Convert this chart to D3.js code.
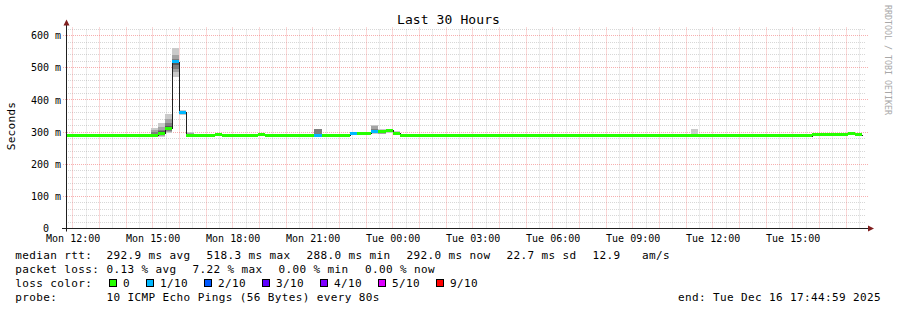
<!DOCTYPE html>
<html>
<head>
<meta charset="utf-8">
<script src="https://cdn.jsdelivr.net/npm/d3@7/dist/d3.min.js"></script>
<style>
body { margin: 0; background: #fff; }
text { font-family: "DejaVu Sans Mono", monospace; fill: #000; }
</style>
</head>
<body>
<div id="chart"></div>
<script>
// Graph period
var endTime = new Date(2025, 11, 16, 17, 44, 59);
var spanHours = 30;
var firstBin = new Date(2025, 11, 15, 11, 44, 0);
var binMinutes = 16;

// Median rtt per 16 min bin (ms)
var median = [
    290, 290, 290, 290, 290, 288, 288, 290, 288, 288,
    288, 290, 290, 297, 312, 518.3, 362, 290, 290, 290,
    290, 293, 290, 290, 290, 290, 290, 292, 290, 290,
    290, 290, 290, 290, 290, 290, 290, 290, 290, 290,
    296, 296, 296, 301, 303, 305, 297, 290, 290, 290,
    290, 290, 290, 290, 290, 290, 290, 290, 290, 290,
    290, 290, 290, 290, 290, 290, 290, 290, 290, 290,
    290, 290, 290, 290, 290, 290, 290, 290, 290, 290,
    290, 290, 290, 290, 290, 290, 290, 290, 290, 290,
    290, 290, 290, 290, 290, 290, 290, 290, 290, 288,
    290, 288, 290, 288, 288, 293, 293, 293, 293, 293,
    297, 292
];

// Packet loss per bin (%)
var lossPct = [
    0, 0, 0, 0, 0, 0, 0, 0, 0, 0,
    0, 0, 0, 0, 0, 7.22, 3.0, 0, 0, 0,
    0, 0, 0, 0, 0, 0, 0, 0, 0, 0,
    0, 0, 0, 0, 0, 1.5, 0, 0, 0, 0,
    1.5, 0, 0, 1.4, 0, 0, 0, 0, 0, 0,
    0, 0, 0, 0, 0, 0, 0, 0, 0, 0,
    0, 0, 0, 0, 0, 0, 0, 0, 0, 0,
    0, 0, 0, 0, 0, 0, 0, 0, 0, 0,
    0, 0, 0, 0, 0, 0, 0, 0, 0, 0,
    0, 0, 0, 0, 0, 0, 0, 0, 0, 0,
    0, 0, 0, 0, 0, 0, 0, 0, 0, 0,
    0, 0
];

// Bins where the smoke shows past the median band, sorted pings (ms)
var smokeBins = [12, 13, 14, 15, 16, 17, 35, 43, 44, 45, 46, 88];
var smokePings = [
    [290, 291, 291, 292, 292, 293, 295, 300, 305, 313],
    [285, 288, 291, 294, 296, 298, 303, 306, 316, 327],
    [296, 300, 304, 308, 311, 313, 318, 328, 340, 356],
    [470, 486, 497, 510, 516, 520, 524, 528, 541, 561],
    [352, 355, 358, 360, 361, 363, 364, 365, 366, 368],
    [287, 288, 289, 289, 290, 290, 291, 292, 296, 301],
    [287, 288, 289, 290, 290, 291, 292, 308, 310, 311],
    [295, 297, 299, 300, 301, 302, 304, 310, 318, 322],
    [293, 295, 298, 300, 302, 304, 305, 306, 307, 308],
    [298, 300, 302, 303, 304, 306, 307, 308, 309, 310],
    [291, 293, 294, 295, 296, 298, 299, 300, 301, 302],
    [286, 287, 288, 289, 290, 290, 291, 292, 293, 311]
];

// Loss colour legend
var lossLabels = ["0", "1/10", "2/10", "3/10", "4/10", "5/10", "9/10"];
var lossLimits = [0, 10, 20, 30, 40, 50, 90];
var lossColors = ["#26ff00", "#00b8ff", "#0059ff", "#5e00ff", "#7e00ff", "#dd00ff", "#ff0000"];

var yTicks = [0, 100, 200, 300, 400, 500, 600];
var yMax = 622;

var title = "Last 30 Hours";
var yLabel = "Seconds";
var rttStats = ["292.9 ms avg", "518.3 ms max", "288.0 ms min", "292.0 ms now", "22.7 ms sd", "12.9", "am/s"];
var lossStats = ["0.13 % avg", "7.22 % max", "0.00 % min", "0.00 % now"];
var probeText = "10 ICMP Echo Pings (56 Bytes) every 80s";
var endText = "end: Tue Dec 16 17:44:59 2025";

// Dimensions
var W = 897, H = 310;
var X0 = 66, X1 = 866, Y0 = 228.5, YT = 28.5;

var x = d3.scaleTime()
    .domain([d3.timeHour.offset(endTime, -spanHours), endTime])
    .range([X0, X1]);
var y = d3.scaleLinear().domain([0, yMax]).range([Y0, YT]);

function binStart(i) {
    return d3.timeMinute.offset(firstBin, i * binMinutes);
}

function lossColor(p) {
    for (var k = 0; k < lossLimits.length; k++) {
        if (p <= lossLimits[k]) return lossColors[k];
    }
    return lossColors[lossColors.length - 1];
}

var svg = d3.select("#chart").append("svg")
    .attr("width", W)
    .attr("height", H);

svg.append("rect").attr("width", W).attr("height", H).attr("fill", "#fff");

svg.append("clipPath").attr("id", "plot")
    .append("rect").attr("x", X0).attr("y", YT - 0.5).attr("width", X1 - X0).attr("height", Y0 - YT + 0.5);

// grid
var grid = svg.append("g").attr("fill", "none").attr("stroke-dasharray", "1,1");
var t0 = x.domain()[0], t1 = x.domain()[1];

var halfHours = d3.timeMinute.every(30).range(t0, t1).filter(function(d) { return d.getMinutes() !== 0; });
var hours = d3.timeHour.every(1).range(t0, t1);
var minorY = d3.range(20, yMax, 20).filter(function(v) { return v % 100 !== 0; });
var majorY = d3.range(100, yMax, 100);

grid.selectAll(".vmin").data(halfHours).enter().append("line")
    .attr("x1", function(d) { return Math.floor(x(d)) + 0.5; })
    .attr("x2", function(d) { return Math.floor(x(d)) + 0.5; })
    .attr("y1", Y0).attr("y2", YT)
    .attr("stroke", "rgba(140,140,140,0.35)");

grid.selectAll(".hmin").data(minorY).enter().append("line")
    .attr("x1", X0).attr("x2", X1)
    .attr("y1", function(d) { return Math.floor(y(d)) + 0.5; })
    .attr("y2", function(d) { return Math.floor(y(d)) + 0.5; })
    .attr("stroke", "rgba(140,140,140,0.35)");

grid.selectAll(".vmaj").data(hours).enter().append("line")
    .attr("x1", function(d) { return Math.floor(x(d)) + 0.5; })
    .attr("x2", function(d) { return Math.floor(x(d)) + 0.5; })
    .attr("y1", Y0).attr("y2", YT - 2)
    .attr("stroke", "rgba(240,110,110,0.55)");

grid.selectAll(".hmaj").data(majorY).enter().append("line")
    .attr("x1", X0 - 3).attr("x2", X1 + 2)
    .attr("y1", function(d) { return Math.floor(y(d)) + 0.5; })
    .attr("y2", function(d) { return Math.floor(y(d)) + 0.5; })
    .attr("stroke", "rgba(240,110,110,0.55)");

var plot = svg.append("g").attr("clip-path", "url(#plot)");

// smoke, outer pings lightest
var half = 5;
smokeBins.forEach(function(b, j) {
    var p = smokePings[j];
    for (var i = 1; i <= half; i++) {
        var c = Math.floor(190 / half * (half - i)) + 50;
        plot.append("rect")
            .attr("x", Math.round(x(binStart(b))))
            .attr("width", Math.round(x(binStart(b + 1))) - Math.round(x(binStart(b))))
            .attr("y", Math.round(y(p[p.length - i])))
            .attr("height", Math.max(1, Math.round(y(p[i - 1])) - Math.round(y(p[p.length - i]))))
            .attr("fill", d3.rgb(c, c, c))
            .attr("shape-rendering", "crispEdges");
    }
});

// median line
var pts = median.map(function(m, i) { return [binStart(i), m]; });
pts.push([binStart(median.length), median[median.length - 1]]);

plot.append("path")
    .datum(pts)
    .attr("fill", "none")
    .attr("stroke", "#202020")
    .attr("stroke-width", 1)
    .attr("shape-rendering", "crispEdges")
    .attr("d", d3.line()
        .x(function(d) { return Math.round(x(d[0])) + 0.5; })
        .y(function(d) { return Math.round(y(d[1])) + 0.5; })
        .curve(d3.curveStepAfter));

// loss coloured median band
plot.selectAll(".band").data(median).enter().append("rect")
    .attr("x", function(d, i) { return Math.round(x(binStart(i))); })
    .attr("width", function(d, i) { return Math.round(x(binStart(i + 1))) - Math.round(x(binStart(i))); })
    .attr("y", function(d) { return Math.round(y(d) - 1.5); })
    .attr("height", 3)
    .attr("fill", function(d, i) { return lossColor(lossPct[i]); })
    .attr("shape-rendering", "crispEdges");

// axes labels
var xAxis = d3.axisBottom(x)
    .ticks(d3.timeHour.every(3))
    .tickFormat(d3.timeFormat("%a %H:%M"))
    .tickSize(0)
    .tickPadding(7);

svg.append("g")
    .attr("transform", "translate(0," + Math.floor(Y0) + ")")
    .call(xAxis)
    .call(function(g) { g.select(".domain").remove(); })
    .selectAll("text")
    .attr("font-family", "DejaVu Sans Mono")
    .attr("font-size", 10)
    .attr("fill", "#000");

var yAxis = d3.axisLeft(y)
    .tickValues(yTicks)
    .tickFormat(function(v) { return v === 0 ? "0\u00a0\u00a0" : v + " m"; })
    .tickSize(0)
    .tickPadding(5);

svg.append("g")
    .attr("transform", "translate(" + X0 + ",0)")
    .call(yAxis)
    .call(function(g) { g.select(".domain").remove(); })
    .selectAll("text")
    .attr("font-family", "DejaVu Sans Mono")
    .attr("font-size", 10)
    .attr("fill", "#000")
    .style("white-space", "pre");

// axis lines and arrows
svg.append("line")
    .attr("x1", X0 - 4).attr("x2", X1 + 4)
    .attr("y1", Y0).attr("y2", Y0)
    .attr("stroke", "#1f1f1f");
svg.append("line")
    .attr("x1", X0 + 0.5).attr("x2", X0 + 0.5)
    .attr("y1", Y0 + 3).attr("y2", YT - 4)
    .attr("stroke", "#1f1f1f");
svg.append("path")
    .attr("d", "M" + (X0 - 2.5) + "," + (YT - 3) + "L" + (X0 + 3.5) + "," + (YT - 3) + "L" + (X0 + 0.5) + "," + (YT - 9) + "Z")
    .attr("fill", "#801f1f");
svg.append("path")
    .attr("d", "M" + (X1 + 2) + "," + (Y0 - 3) + "L" + (X1 + 2) + "," + (Y0 + 3) + "L" + (X1 + 8) + "," + Y0 + "Z")
    .attr("fill", "#801f1f");

// title and side labels
svg.append("text")
    .attr("x", W / 2).attr("y", 24)
    .attr("text-anchor", "middle")
    .attr("font-size", 13)
    .attr("letter-spacing", 0.1)
    .text(title);

svg.append("text")
    .attr("transform", "translate(14.5," + 126 + ") rotate(-90)")
    .attr("text-anchor", "middle")
    .attr("font-size", 11)
    .attr("letter-spacing", 0.3)
    .text(yLabel);

svg.append("text")
    .attr("transform", "translate(884.5,5) rotate(90)")
    .attr("font-size", 8.3)
    .attr("fill", "#a8a8a8")
    .style("fill", "#a8a8a8")
    .text("RRDTOOL / TOBI OETIKER");

// legend
var legend = svg.append("g").attr("font-size", 11).attr("letter-spacing", 0.38);

function put(str, px, py) {
    return legend.append("text").attr("x", px).attr("y", py).text(str);
}

var rows = [258.5, 272.5, 286.5, 300.5];
put("median rtt:", 15.3, rows[0]);
var rttX = [106.6, 206.6, 306.6, 406.6, 506.6, 592.6, 642];
rttStats.forEach(function(s, i) { put(s, rttX[i], rows[0]); });

put("packet loss:", 15.3, rows[1]);
var lossX = [106.6, 192.6, 278.6, 364.9];
lossStats.forEach(function(s, i) { put(s, lossX[i], rows[1]); });

put("loss color:", 15.3, rows[2]);
var cx = 109;
lossLabels.forEach(function(l, i) {
    legend.append("rect")
        .attr("x", cx + 0.5).attr("y", rows[2] - 7.5)
        .attr("width", 7).attr("height", 7)
        .attr("fill", lossColors[i])
        .attr("stroke", "#000")
        .attr("shape-rendering", "crispEdges");
    var t = put(l, cx + 14, rows[2]);
    cx = cx + 14 + t.node().getComputedTextLength() + 16;
});

put("probe:", 15.3, rows[3]);
put(probeText, 106.6, rows[3]);
put(endText, 881, rows[3]).attr("text-anchor", "end");
</script>
</body>
</html>
